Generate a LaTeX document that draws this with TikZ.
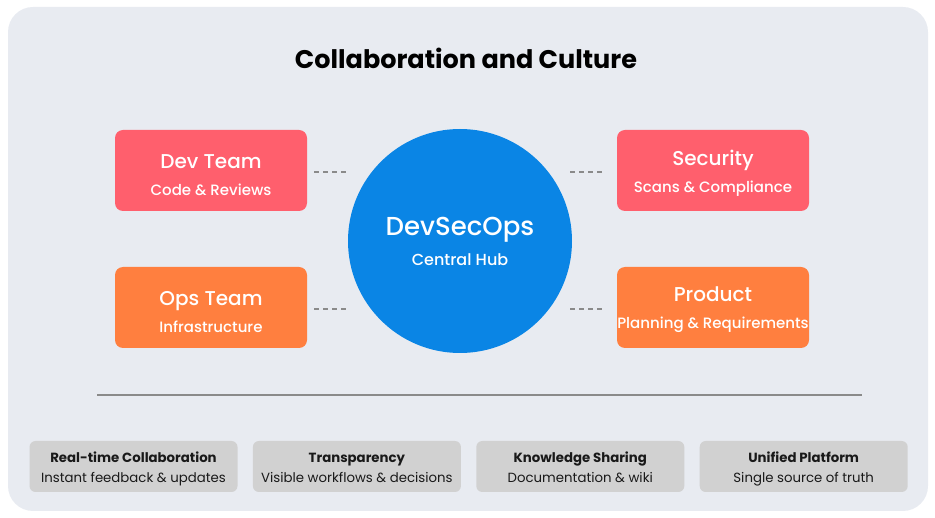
\documentclass[tikz,border=0pt]{standalone}
\usepackage{fontspec}
\setmainfont{Poppins}
\newfontfamily\poppinsmed{Poppins Medium}
\usetikzlibrary{calc}
\usetikzlibrary{positioning}

\definecolor{bgpanel}{HTML}{E8EBF1}
\definecolor{teamred}{HTML}{FF5F6D}
\definecolor{teamorange}{HTML}{FF7F3F}
\definecolor{hubblue}{HTML}{0A85E5}
\definecolor{linkgray}{HTML}{8A8A8A}
\definecolor{tilegray}{HTML}{D1D1D1}

\newcommand{\teamtext}[2]{{\fontsize{20}{26}\selectfont #1}\\{\fontsize{15}{26}\selectfont #2}}
\newcommand{\tiletext}[2]{{\bfseries #1}\\{#2}}

\begin{document}
\begin{tikzpicture}[x=1pt, y=-1pt,
    teambox/.style={rounded corners=8pt, minimum width=192pt, minimum height=81pt,
        text=white, align=center, inner sep=0pt, text depth=0pt,
        font=\poppinsmed\fontsize{15}{26.5}\selectfont},
    tilebox/.style={fill=tilegray, rounded corners=6pt, minimum width=208pt, minimum height=51pt,
        text=black!90, align=center, inner sep=0pt, text height=33pt, text depth=0pt,
        font=\fontsize{13.3}{20.5}\selectfont},
    link/.style={linkgray, line width=1.5pt, dash pattern=on 5pt off 4pt}]
            \useasboundingbox (0,0) rectangle (935,518);
            \fill[bgpanel, rounded corners=25pt] (8,7) rectangle (928,511);

            \node[font=\fontsize{25.5}{30}\selectfont\bfseries] (title) at (466,58) {Collaboration and Culture};

            % hub and teams
            \node[circle, fill=hubblue, minimum size=224pt, inner sep=0pt, text=white, align=center,
                font=\poppinsmed\fontsize{16}{30}\selectfont] (hub) at (460,241)
                {{\fontsize{26}{30}\selectfont DevSecOps}\\{Central Hub}};

            \node[teambox, fill=teamred, text height=50pt] (dev) at (211,170.5) {\teamtext{Dev Team}{Code \& Reviews}};
            \node[teambox, fill=teamorange, text height=50pt] (ops) at (211,307.5) {\teamtext{Ops Team}{Infrastructure}};
            \node[teambox, fill=teamred, text height=44pt] (sec) at (713,170.5) {\teamtext{Security}{Scans \& Compliance}};
            \node[teambox, fill=teamorange, text height=42pt] (prod) at (713,307.5) {\teamtext{Product}{Planning \& Requirements}};

            \draw[link, shorten <=7pt] ([yshift=-1.5pt]dev.east) -- ([yshift=-1.5pt]dev.east -| hub.west);
            \draw[link, shorten <=7pt] ([yshift=-1.5pt]ops.east) -- ([yshift=-1.5pt]ops.east -| hub.west);
            \draw[link, shorten <=-2pt, shorten >=13pt] ([yshift=-1.5pt]sec.west -| hub.east) -- ([yshift=-1.5pt]sec.west);
            \draw[link, shorten <=-2pt, shorten >=13pt] ([yshift=-1.5pt]prod.west -| hub.east) -- ([yshift=-1.5pt]prod.west);

            % divider
            \draw[linkgray, line width=2pt] (97,395) -- (862,395);

            % culture tiles
            \node[tilebox] (realtime) at (133.5,466.5) {\tiletext{Real-time Collaboration}{Instant feedback \& updates}};
            \node[tilebox, right=15pt of realtime] (transp) {\tiletext{Transparency}{Visible workflows \& decisions}};
            \node[tilebox, right=15pt of transp] (knowledge) {\tiletext{Knowledge Sharing}{Documentation \& wiki}};
            \node[tilebox, right=15pt of knowledge] (platform) {\tiletext{Unified Platform}{Single source of truth}};
        \end{tikzpicture}
\end{document}
